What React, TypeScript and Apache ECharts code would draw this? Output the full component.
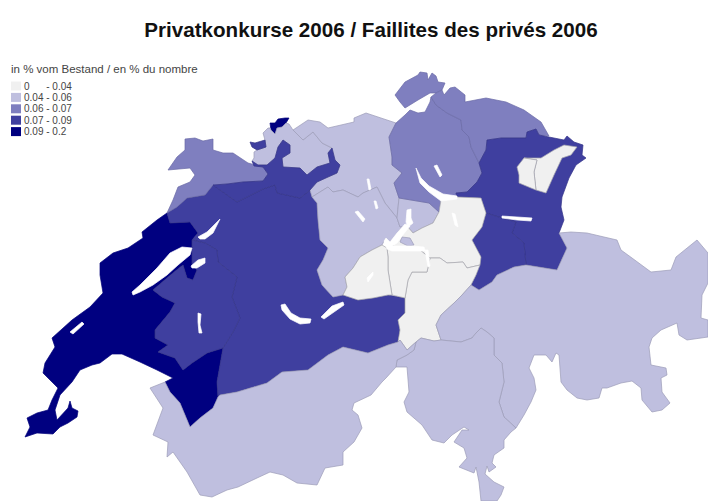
import React, { useEffect, useRef } from "react";
import * as echarts from "echarts";

type Pt = [number, number];

const titleText = "Privatkonkurse 2006 / Faillites des privés 2006";
const legendTitle = "in % vom Bestand / en % du nombre";
const classLabels = ["0      - 0.04", "0.04 - 0.06", "0.06 - 0.07", "0.07 - 0.09", "0.09 - 0.2"];
const classBreaks = [0, 0.04, 0.06, 0.07, 0.09, 0.2];
const classColors = ["#F0F0F0", "#BFBFDF", "#7F7FBF", "#3F3F9F", "#000080"];
const classBorders = ["#A6A6AE", "#9C9CB8", "#6A6AA6", "#333388", "#000078"];

const regionNames = ["VD", "BE", "FR", "JU", "BS", "BL", "AG", "LU", "ZG", "ZH", "SH", "TG", "SG", "GL", "AR", "AI", "SZ", "KU", "UR", "NW", "OW", "GR", "TI", "VS", "SO1", "SO2"];
const regionValues = [0.1, 0.08, 0.08, 0.065, 0.12, 0.05, 0.05, 0.05, 0.05, 0.065, 0.065, 0.065, 0.08, 0.08, 0.03, 0.03, 0.03, 0.05, 0.03, 0.03, 0.03, 0.05, 0.05, 0.05, 0.08, 0.08];

const shapes: Record<string, Pt[]> = {
  VD: [[167,213],[157,220],[142,232],[143,238],[128,248],[113,253],[100,263],[100,275],[103,293],[90,307],[72,320],[52,338],[55,347],[45,363],[43,373],[58,388],[52,400],[48,410],[37,413],[27,418],[30,427],[25,437],[37,433],[53,434],[60,427],[68,423],[77,417],[78,411],[72,408],[70,401],[68,408],[57,420],[55,410],[60,395],[72,382],[80,370],[92,365],[100,363],[112,354],[122,354],[140,362],[157,370],[173,378],[165,382],[170,392],[180,403],[190,427],[200,418],[213,408],[218,397],[217,382],[223,348],[207,353],[192,363],[183,370],[175,358],[158,352],[168,345],[155,338],[155,330],[170,312],[175,303],[162,297],[153,290],[173,273],[183,265],[187,278],[193,280],[197,270],[192,265],[192,248],[192,240],[198,233],[190,222],[170,223]],
  FR: [[192,240],[205,243],[217,250],[218,262],[237,277],[232,297],[240,318],[233,332],[223,348],[207,353],[192,363],[183,370],[175,358],[158,352],[168,345],[155,338],[155,330],[170,312],[175,303],[162,297],[153,290],[173,273],[183,265],[187,278],[193,280],[197,270],[192,265],[192,248]],
  BE: [[167,213],[177,207],[187,198],[193,197],[205,195],[213,185],[237,202],[263,189],[275,185],[277,193],[300,198],[310,190],[312,197],[317,203],[318,220],[320,240],[328,248],[323,260],[317,270],[322,285],[333,297],[343,295],[358,300],[373,298],[388,295],[405,298],[405,313],[398,320],[400,330],[398,342],[388,345],[368,353],[343,347],[328,355],[308,370],[282,372],[267,383],[237,392],[220,395],[218,397],[217,382],[223,348],[233,332],[240,318],[232,297],[237,277],[218,262],[217,250],[205,243],[192,240],[198,233],[190,222],[170,223]],
  SO1: [[213,185],[227,184],[243,182],[263,181],[268,174],[263,167],[254,166],[252,161],[258,165],[267,165],[275,158],[278,147],[283,140],[290,145],[290,153],[282,158],[283,167],[300,168],[307,175],[317,167],[330,163],[328,153],[332,148],[335,160],[340,165],[337,173],[328,177],[317,182],[310,190],[300,198],[277,193],[275,185],[263,189],[237,202]],
  SO2: [[250,142],[255,143],[265,140],[266,147],[257,150],[252,147]],
  JU: [[185,139],[195,138],[203,141],[213,139],[213,150],[223,153],[233,153],[248,163],[263,167],[268,174],[263,181],[243,182],[227,184],[213,185],[205,195],[193,197],[187,198],[177,207],[167,213],[173,200],[178,187],[190,182],[195,175],[190,168],[168,170],[177,157],[185,150]],
  BS: [[270,123],[275,123],[278,119],[285,118],[289,118],[286,123],[282,127],[277,128],[275,134],[271,130]],
  BL: [[263,133],[268,128],[270,128],[271,130],[275,134],[277,128],[282,127],[286,123],[289,124],[293,130],[303,140],[313,132],[322,143],[332,148],[328,153],[330,163],[317,167],[307,175],[300,168],[283,167],[282,158],[290,153],[290,145],[283,140],[278,147],[275,158],[267,165],[258,165],[252,161],[254,158],[254,152],[257,150],[266,147],[265,140]],
  AG: [[293,130],[308,120],[320,122],[328,128],[354,122],[354,118],[366,113],[381,118],[396,123],[389,137],[392,157],[392,165],[402,173],[394,183],[399,198],[397,218],[385,203],[377,187],[363,193],[358,197],[343,190],[333,192],[328,187],[312,197],[310,190],[317,182],[328,177],[337,173],[340,165],[335,160],[332,148],[322,143],[313,132],[303,140]],
  LU: [[312,197],[328,187],[333,192],[343,190],[358,197],[363,193],[377,187],[385,203],[397,218],[400,227],[405,224],[397,233],[390,242],[386,238],[384,241],[382,245],[372,250],[360,257],[353,268],[345,277],[347,287],[343,295],[333,297],[322,285],[317,270],[323,260],[328,248],[320,240],[318,220],[317,203]],
  ZG: [[399,198],[429,203],[439,212],[433,223],[422,228],[413,233],[407,226],[400,227],[397,218]],
  ZH: [[389,137],[396,123],[405,115],[410,110],[418,113],[425,112],[430,102],[431,97],[436,105],[447,113],[461,120],[462,130],[469,137],[471,147],[479,163],[482,173],[477,182],[467,192],[456,193],[457,197],[441,200],[439,212],[429,203],[399,198],[394,183],[402,173],[392,165],[392,157]],
  SH: [[395,95],[405,82],[418,75],[420,72],[427,73],[428,80],[432,73],[436,76],[438,82],[445,83],[442,90],[436,93],[430,93],[418,100],[405,108],[400,102]],
  TG: [[431,97],[436,93],[442,90],[444,95],[450,88],[455,87],[465,95],[465,102],[486,98],[506,102],[524,110],[541,122],[549,136],[539,135],[536,129],[527,132],[526,138],[511,138],[501,138],[487,140],[486,150],[479,163],[471,147],[469,137],[462,130],[461,120],[447,113],[436,105]],
  SG: [[487,140],[501,138],[511,138],[526,138],[527,132],[536,129],[539,135],[549,137],[564,140],[567,136],[574,142],[583,145],[582,155],[586,158],[576,165],[569,178],[562,197],[561,207],[564,220],[559,233],[567,248],[557,270],[526,265],[524,243],[512,233],[516,222],[502,218],[486,213],[481,198],[457,197],[456,193],[467,192],[477,182],[482,173],[479,163],[486,150]],
  GL: [[486,213],[502,218],[516,222],[512,233],[524,243],[526,265],[514,267],[497,275],[492,282],[479,290],[471,285],[476,275],[481,257],[472,240],[482,227]],
  AR: [[524,158],[541,158],[554,150],[564,145],[577,147],[571,155],[562,158],[554,175],[546,193],[536,190],[534,172],[537,160]],
  AI: [[517,167],[524,158],[537,160],[534,172],[536,190],[531,188],[519,183],[519,175]],
  SZ: [[439,212],[441,200],[457,197],[481,198],[486,213],[482,227],[472,240],[481,257],[480,265],[467,268],[463,262],[447,263],[440,258],[430,258],[420,250],[407,248],[392,248],[396,238],[407,226],[413,233],[422,228],[433,223]],
  KU: [[402,237],[410,238],[414,245],[408,246],[400,242]],
  UR: [[480,265],[476,275],[471,285],[462,295],[454,303],[441,315],[436,325],[441,340],[434,341],[421,338],[416,342],[407,350],[400,340],[398,342],[400,330],[398,320],[405,313],[405,298],[408,280],[412,272],[427,272],[430,258],[440,258],[447,263],[463,262],[467,268]],
  NW: [[387,248],[397,247],[407,247],[420,250],[430,258],[427,272],[412,272],[408,280],[405,298],[392,295],[388,270],[388,257]],
  OW: [[382,245],[387,248],[388,257],[388,270],[392,295],[388,295],[373,298],[358,300],[343,295],[347,287],[345,277],[353,268],[360,257],[372,250]],
  GR: [[471,285],[479,290],[492,282],[497,275],[514,267],[526,265],[557,270],[567,248],[559,233],[571,232],[587,233],[604,237],[617,240],[621,250],[632,258],[651,272],[671,270],[676,257],[697,240],[708,253],[708,283],[702,295],[701,318],[708,320],[708,337],[687,340],[679,335],[677,323],[661,330],[652,338],[649,347],[651,365],[666,368],[667,375],[661,378],[662,392],[670,403],[662,410],[652,412],[642,400],[641,388],[632,381],[621,383],[607,388],[602,388],[599,398],[587,400],[577,398],[567,390],[561,382],[559,355],[556,353],[552,362],[546,355],[534,355],[529,368],[534,378],[536,390],[531,402],[524,415],[516,428],[504,417],[499,402],[504,382],[502,363],[494,355],[494,338],[487,332],[481,328],[476,333],[472,338],[461,342],[441,340],[436,325],[441,315],[454,303],[462,295]],
  TI: [[416,342],[421,338],[434,341],[441,340],[461,342],[472,338],[476,333],[481,328],[487,332],[494,338],[494,355],[502,363],[504,382],[499,402],[504,417],[516,428],[511,432],[504,440],[504,448],[494,455],[492,463],[496,467],[489,472],[487,466],[485,474],[494,482],[504,487],[501,495],[497,501],[481,501],[479,482],[476,467],[474,473],[459,467],[467,458],[464,448],[454,442],[462,430],[469,430],[464,427],[452,435],[444,443],[432,440],[422,425],[407,412],[404,402],[409,392],[407,367],[396,367],[397,360],[407,355],[414,350]],
  VS: [[165,382],[170,392],[180,403],[190,427],[200,418],[213,408],[218,397],[220,395],[237,392],[267,383],[282,372],[308,370],[328,355],[343,347],[368,353],[388,345],[398,342],[400,340],[407,350],[416,342],[414,350],[407,355],[397,360],[396,367],[386,378],[382,382],[371,395],[354,403],[352,410],[358,415],[362,428],[354,442],[343,452],[343,465],[325,468],[317,485],[297,483],[283,475],[270,472],[257,478],[238,487],[227,490],[212,497],[200,495],[187,472],[173,452],[167,457],[168,442],[153,435],[163,408],[150,388]],
};

const lakes: Record<string, Pt[]> = {
  Neuchatel: [[132,292],[140,285],[157,268],[170,253],[182,247],[192,248],[190,255],[178,265],[167,275],[153,285],[140,292],[133,295]],
  Biel: [[198,237],[207,232],[220,219],[213,233],[205,239],[200,239]],
  Murten: [[191,266],[198,260],[205,258],[205,263],[197,268],[192,268]],
  Gruyere: [[198,313],[201,314],[200,325],[202,333],[199,333],[198,322]],
  Joux: [[70,332],[82,322],[84,324],[73,334]],
  Thun: [[281,305],[285,304],[291,313],[300,318],[311,319],[310,323],[300,324],[290,319],[282,310]],
  Brienz: [[321,317],[332,306],[343,302],[344,305],[334,312],[324,319]],
  Sempach: [[355,212],[358,211],[365,219],[363,222]],
  Baldegg: [[374,201],[376,201],[378,208],[376,209]],
  Hallwil: [[367,179],[369,179],[371,189],[369,190]],
  Zug: [[407,210],[411,209],[411,218],[413,223],[408,227],[406,222]],
  Lucerne: [[405,224],[410,226],[402,236],[397,243],[392,246],[412,246],[424,247],[425,251],[412,251],[392,251],[387,249],[384,241],[386,238],[390,242],[397,233]],
  Uri: [[425,250],[428,250],[430,266],[428,267]],
  Sarnen: [[367,278],[373,272],[373,275],[368,282]],
  Sihl: [[452,213],[455,214],[458,227],[455,225]],
  Zurich: [[416,168],[421,178],[429,186],[443,194],[457,196],[457,199],[441,201],[429,192],[420,183]],
  Greifen: [[434,166],[437,165],[442,175],[440,177]],
  Walen: [[502,216],[517,217],[532,218],[531,221],[517,220],[502,218]],
};

const toFeature = (name: string, ring: Pt[]) => ({
  type: "Feature",
  properties: { name },
  geometry: { type: "Polygon", coordinates: [[...ring, ring[0]]] },
});

const classOf = (v: number) => classBreaks.findIndex((b, i) => v >= b && v < classBreaks[i + 1]);

export default function App() {
  const ref = useRef<HTMLDivElement>(null);
  useEffect(() => {
    document.body.style.margin = "0";
    document.body.style.background = "#fff";
    const features = [
      ...regionNames.map((n) => toFeature(n, shapes[n])),
      ...Object.keys(lakes).map((n) => toFeature("lake-" + n, lakes[n])),
    ];
    echarts.registerMap("ch", { type: "FeatureCollection", features } as any);
    const chart = echarts.init(ref.current!, undefined, { renderer: "svg" });
    chart.setOption({
      animation: false,
      backgroundColor: "#fff",
      title: [
        {
          text: titleText,
          left: 366,
          top: 14,
          textAlign: "center",
          textStyle: { fontFamily: "Liberation Sans", fontSize: 20.6, fontWeight: "bold", color: "#111" },
        },
        {
          text: legendTitle,
          left: 6,
          top: 58,
          textStyle: { fontFamily: "Liberation Sans", fontSize: 11.5, fontWeight: "normal", color: "#444" },
        },
      ],
      visualMap: {
        type: "piecewise",
        seriesIndex: 0,
        left: 11,
        top: 81,
        padding: 0,
        orient: "vertical",
        align: "left",
        inverse: true,
        itemWidth: 10,
        itemHeight: 9,
        itemGap: 1.4,
        textGap: 3,
        itemSymbol: "rect",
        selectedMode: false,
        hoverLink: false,
        textStyle: { fontFamily: "Liberation Sans", fontSize: 10, color: "#444" },
        pieces: classLabels.map((label, i) => ({
          min: classBreaks[i],
          max: classBreaks[i + 1],
          label,
          color: classColors[i],
        })),
      },
      series: [
        {
          type: "map",
          map: "ch",
          silent: true,
          roam: false,
          projection: { project: (p: number[]) => p, unproject: (p: number[]) => p },
          boundingCoords: [[0, 0], [708, 501]],
          left: 0,
          top: 0,
          width: 708,
          height: 501,
          label: { show: false },
          emphasis: { disabled: true },
          select: { disabled: true },
          itemStyle: { areaColor: "#fff", borderColor: "#fff", borderWidth: 0.7 },
          data: regionNames.map((name, i) => ({
            name,
            value: regionValues[i],
            itemStyle: { borderColor: classBorders[classOf(regionValues[i])], borderWidth: 0.7 },
          })),
        },
      ],
    });
    return () => chart.dispose();
  }, []);
  return <div ref={ref} style={{ position: "absolute", left: 0, top: 0, width: 708, height: 501 }} />;
}
